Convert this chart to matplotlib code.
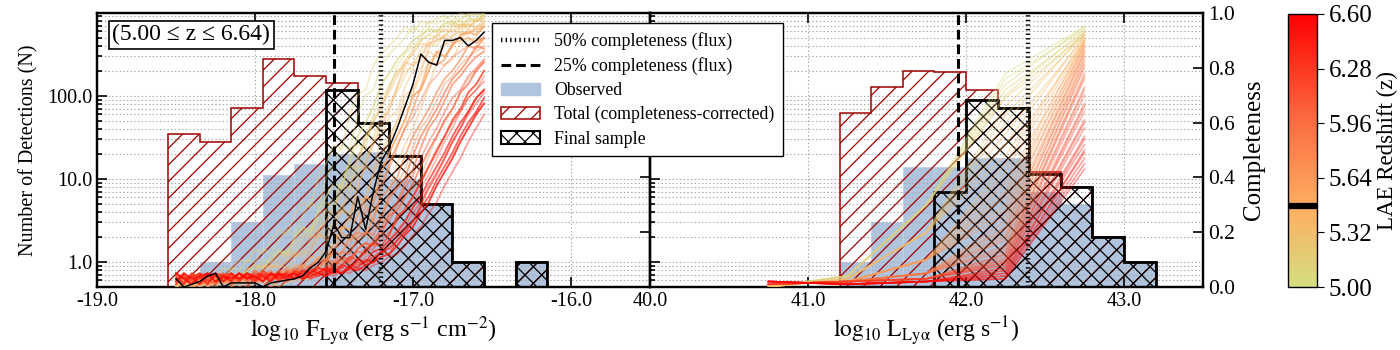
import numpy as np
import matplotlib
matplotlib.use("Agg")
import matplotlib.pyplot as plt
from matplotlib.colors import LinearSegmentedColormap, Normalize
from matplotlib.cm import ScalarMappable
from matplotlib.lines import Line2D
from matplotlib.patches import Patch
import matplotlib.ticker as mticker

plt.rcParams['font.family'] = ['Liberation Serif', 'DejaVu Serif']
plt.rcParams['mathtext.fontset'] = 'stix'
plt.rcParams['hatch.linewidth'] = 0.9
plt.rcParams['lines.scale_dashes'] = False

# ---------------- data ----------------
# flux histograms (log10 F bins)
flux_edges = [-18.55, -18.35, -18.15, -17.95, -17.75, -17.55, -17.35,
              -17.15, -16.95, -16.75, -16.55, -16.35, -16.15]
flux_observed = [0, 1, 3, 11, 15, 20, 21, 10, 5, 1, 0, 1]
flux_total = [35, 28, 72, 279, 174, 144, 47, 19, 5, 1, 0, 1]
flux_final = [0, 0, 0, 0, 0, 118, 47, 19, 5, 1, 0, 1]

# luminosity histograms (log10 L bins)
lum_edges = [41.2, 41.4, 41.6, 41.8, 42.0, 42.2, 42.4, 42.6, 42.8, 43.0, 43.2]
lum_observed = [1, 3, 14, 14, 18, 18, 7, 5, 2, 1]
lum_total = [62, 128, 200, 195, 118, 72, 12, 8, 2, 1]
lum_final = [0, 0, 0, 7, 89, 72, 11.5, 8, 2, 1]

# completeness limits
flux_c25, flux_c50 = -17.50, -17.20
lum_c25, lum_c50 = 41.95, 42.39

# completeness curve of highlighted LAE (black), on flux grid -18.50 .. -16.55
black_z = 5.475
black_completeness = [0.03, 0.00, 0.01, 0.02, 0.04, 0.05, 0.00, 0.015, 0.015, 0.015,
                      0.015, 0.00, 0.015, 0.02, 0.025, 0.03, 0.04, 0.07, 0.09, 0.13,
                      0.23, 0.18, 0.18, 0.33, 0.21, 0.35, 0.46, 0.51, 0.58, 0.66,
                      0.74, 0.85, 0.82, 0.81, 0.90, 0.90, 0.91, 0.88, 0.90, 0.93]

# template completeness shapes (flux grid -18.65 .. -16.40): two variants per redshift class
flux_templates_a = [
    [0.00, 0.01, 0.00, 0.02, 0.00, 0.01, 0.03, 0.01, 0.02, 0.03, 0.05, 0.04, 0.06,
     0.08, 0.07, 0.11, 0.13, 0.12, 0.18, 0.22, 0.20, 0.28, 0.33,
     0.38, 0.36, 0.47, 0.55, 0.60, 0.66, 0.74, 0.78, 0.83, 0.86,
     0.90, 0.92, 0.94, 0.93, 0.96, 0.97, 0.95, 0.98, 0.97, 0.99, 0.98, 0.99, 1.00],
    [0.00, 0.00, 0.01, 0.00, 0.02, 0.01, 0.00, 0.02, 0.01, 0.02, 0.03, 0.02, 0.04,
     0.05, 0.04, 0.06, 0.08, 0.07, 0.10, 0.13, 0.12, 0.17, 0.21,
     0.24, 0.30, 0.33, 0.41, 0.47, 0.53, 0.60, 0.67, 0.71, 0.77,
     0.82, 0.85, 0.89, 0.88, 0.92, 0.94, 0.93, 0.96, 0.95, 0.97, 0.98, 0.97, 0.99],
    [0.01, 0.00, 0.02, 0.03, 0.00, 0.01, 0.02, 0.04, 0.05, 0.00, 0.02, 0.01, 0.02,
     0.02, 0.00, 0.02, 0.02, 0.03, 0.03, 0.04, 0.07, 0.09, 0.13,
     0.20, 0.17, 0.19, 0.30, 0.24, 0.36, 0.45, 0.52, 0.58, 0.65,
     0.73, 0.82, 0.81, 0.83, 0.89, 0.90, 0.91, 0.89, 0.91, 0.93, 0.94, 0.95, 0.96],
    [0.02, 0.03, 0.01, 0.04, 0.02, 0.03, 0.05, 0.02, 0.04, 0.01, 0.03, 0.04, 0.02,
     0.03, 0.05, 0.02, 0.04, 0.03, 0.05, 0.04, 0.06, 0.05, 0.08,
     0.10, 0.09, 0.14, 0.16, 0.15, 0.22, 0.27, 0.31, 0.38, 0.43,
     0.51, 0.58, 0.62, 0.68, 0.74, 0.77, 0.81, 0.84, 0.86, 0.88, 0.90, 0.91, 0.93],
    [0.03, 0.01, 0.04, 0.02, 0.05, 0.03, 0.01, 0.04, 0.03, 0.05, 0.02, 0.04, 0.03,
     0.05, 0.02, 0.04, 0.03, 0.06, 0.03, 0.05, 0.04, 0.06, 0.05,
     0.07, 0.09, 0.08, 0.11, 0.13, 0.12, 0.17, 0.21, 0.24, 0.30,
     0.36, 0.41, 0.47, 0.53, 0.58, 0.64, 0.69, 0.72, 0.77, 0.80, 0.83, 0.85, 0.88],
    [0.04, 0.02, 0.05, 0.03, 0.01, 0.04, 0.05, 0.02, 0.04, 0.03, 0.05, 0.03, 0.04,
     0.02, 0.05, 0.03, 0.04, 0.05, 0.03, 0.04, 0.05, 0.04, 0.06,
     0.05, 0.07, 0.06, 0.08, 0.09, 0.11, 0.12, 0.15, 0.19, 0.22,
     0.27, 0.31, 0.37, 0.42, 0.47, 0.53, 0.58, 0.63, 0.67, 0.71, 0.74, 0.78, 0.81],
]
flux_templates_b = [
    [0.01, 0.00, 0.02, 0.01, 0.03, 0.00, 0.02, 0.04, 0.03, 0.05, 0.03, 0.07, 0.06,
     0.10, 0.09, 0.14, 0.12, 0.17, 0.21, 0.19, 0.26, 0.31, 0.29,
     0.40, 0.45, 0.52, 0.50, 0.63, 0.70, 0.72, 0.81, 0.85, 0.88,
     0.91, 0.95, 0.93, 0.97, 0.96, 0.98, 0.99, 0.97, 1.00, 0.99, 1.00, 0.99, 1.00],
    [0.00, 0.02, 0.00, 0.01, 0.03, 0.02, 0.01, 0.03, 0.02, 0.04, 0.02, 0.05, 0.04,
     0.06, 0.08, 0.07, 0.09, 0.12, 0.11, 0.15, 0.19, 0.18, 0.24,
     0.28, 0.27, 0.37, 0.44, 0.43, 0.55, 0.62, 0.64, 0.73, 0.79,
     0.80, 0.87, 0.90, 0.92, 0.91, 0.95, 0.96, 0.94, 0.97, 0.98, 0.99, 0.98, 1.00],
    [0.02, 0.01, 0.00, 0.02, 0.04, 0.01, 0.03, 0.00, 0.02, 0.03, 0.01, 0.03, 0.02,
     0.04, 0.03, 0.05, 0.04, 0.06, 0.05, 0.08, 0.07, 0.11, 0.10,
     0.16, 0.22, 0.21, 0.26, 0.33, 0.31, 0.42, 0.49, 0.55, 0.61,
     0.70, 0.72, 0.79, 0.86, 0.84, 0.88, 0.92, 0.93, 0.92, 0.95, 0.96, 0.97, 0.97],
    [0.03, 0.01, 0.04, 0.03, 0.02, 0.05, 0.01, 0.03, 0.05, 0.02, 0.04, 0.02, 0.05,
     0.03, 0.04, 0.06, 0.03, 0.05, 0.07, 0.05, 0.08, 0.07, 0.10,
     0.09, 0.13, 0.12, 0.18, 0.20, 0.19, 0.25, 0.33, 0.36, 0.40,
     0.48, 0.55, 0.60, 0.65, 0.71, 0.76, 0.79, 0.83, 0.88, 0.87, 0.91, 0.92, 0.94],
    [0.02, 0.05, 0.02, 0.04, 0.01, 0.05, 0.03, 0.05, 0.02, 0.04, 0.05, 0.02, 0.05,
     0.03, 0.06, 0.04, 0.05, 0.02, 0.06, 0.04, 0.07, 0.05, 0.07,
     0.06, 0.08, 0.11, 0.10, 0.14, 0.16, 0.15, 0.19, 0.26, 0.28,
     0.33, 0.38, 0.44, 0.50, 0.55, 0.61, 0.65, 0.71, 0.74, 0.79, 0.82, 0.84, 0.87],
    [0.05, 0.03, 0.04, 0.02, 0.05, 0.03, 0.04, 0.01, 0.05, 0.04, 0.02, 0.05, 0.03,
     0.05, 0.04, 0.02, 0.05, 0.04, 0.05, 0.03, 0.06, 0.05, 0.07,
     0.06, 0.05, 0.08, 0.07, 0.10, 0.09, 0.13, 0.14, 0.17, 0.20,
     0.24, 0.29, 0.33, 0.39, 0.44, 0.49, 0.55, 0.60, 0.64, 0.69, 0.72, 0.75, 0.79],
]
class_z_bounds = [5.2, 5.4, 5.7, 6.0, 6.3]

# redshifts of the individual LAEs, template variant and grid shift (in 0.05 dex steps)
lae_z = [5.00, 5.03, 5.07, 5.10, 5.14, 5.17, 5.21, 5.24, 5.28, 5.31, 5.35, 5.38,
         5.42, 5.45, 5.49, 5.52, 5.56, 5.59, 5.63, 5.66, 5.70, 5.73, 5.77, 5.80,
         5.84, 5.87, 5.91, 5.94, 5.98, 6.01, 6.05, 6.08, 6.12, 6.15, 6.19, 6.22,
         6.26, 6.29, 6.33, 6.36, 6.40, 6.43, 6.47, 6.50, 6.54, 6.57, 6.59, 6.60]
lae_variant = [0, 1, 1, 0, 1, 0, 0, 1, 0, 1, 1, 0, 1, 0, 1, 1, 0, 0, 1, 0, 1, 1, 0, 1,
               0, 1, 0, 0, 1, 1, 0, 1, 0, 1, 1, 0, 0, 1, 0, 1, 1, 0, 1, 0, 0, 1, 1, 0]
lae_shift = [0, -1, 1, 0, -2, 1, 0, -1, 2, 0, 1, -1, 0, 2, -1, 0, 1, -2, 0, 1,
             -1, 2, 0, -1, 1, 0, -2, 1, 0, -1, 2, 0, 1, -1, 0, 2, -1, 0, 1, -2,
             0, 1, -1, 0, 2, -1, 0, 1]

# luminosity completeness: grid points, class values for the faint points, per-LAE bright points
lum_grid = [40.75, 41.25, 41.75, 42.25, 42.75]
lum_faint_by_class = [[0.00, 0.04, 0.30], [0.00, 0.03, 0.20], [0.01, 0.02, 0.10],
                      [0.01, 0.02, 0.05], [0.01, 0.02, 0.03], [0.02, 0.01, 0.02]]
lae_c_4225 = [0.78, 0.76, 0.74, 0.72, 0.70, 0.69, 0.66, 0.63, 0.60, 0.56, 0.52, 0.48,
              0.45, 0.42, 0.38, 0.35, 0.33, 0.30, 0.28, 0.26, 0.24, 0.22, 0.21, 0.19,
              0.18, 0.17, 0.15, 0.14, 0.13, 0.12, 0.12, 0.11, 0.10, 0.10, 0.09, 0.09,
              0.08, 0.08, 0.07, 0.07, 0.06, 0.06, 0.05, 0.05, 0.04, 0.04, 0.03, 0.03]
lae_c_4275 = [0.95, 0.94, 0.95, 0.93, 0.94, 0.92, 0.93, 0.92, 0.93, 0.91, 0.92, 0.90,
              0.91, 0.90, 0.89, 0.90, 0.88, 0.89, 0.87, 0.88, 0.86, 0.85, 0.86, 0.84,
              0.82, 0.83, 0.80, 0.81, 0.78, 0.76, 0.77, 0.73, 0.70, 0.72, 0.67, 0.64,
              0.66, 0.61, 0.58, 0.60, 0.55, 0.52, 0.54, 0.49, 0.47, 0.50, 0.45, 0.43]

cbar_ticks = [5.00, 5.32, 5.64, 5.96, 6.28, 6.60]
z_label = '(5.00 ≤ z ≤ 6.64)'

# ---------------- style ----------------
c_obs = '#b0c4de'
c_tot = '#a00000'
cmap = LinearSegmentedColormap.from_list(
    'zmap', [(0.0, '#d5de80'), (0.28, '#fdb062'), (0.62, '#fb6a40'), (1.0, '#ff0000')])
norm = Normalize(5.0, 6.6)

W, H = 1400, 350
fig = plt.figure(figsize=(14, 3.5), dpi=100)
axL = fig.add_axes([97 / W, 63 / H, 553 / W, 274 / H])
axR = fig.add_axes([650 / W, 63 / H, 553 / W, 274 / H], sharey=axL)
cax = fig.add_axes([1288 / W, 63 / H, 29 / W, 273 / H])

flux_grid_long = np.round(-18.65 + 0.05 * np.arange(len(flux_templates_a[0])), 2)
flux_grid = np.round(-18.50 + 0.05 * np.arange(len(black_completeness)), 2)
classes = np.digitize(lae_z, class_z_bounds)


def draw_hists(ax, edges, obs, tot, fin):
    edges = np.asarray(edges)
    ax.bar(edges[:-1], obs, width=np.diff(edges), align='edge', color=c_obs,
           edgecolor='#c3d1e6', lw=0.8, zorder=1)
    ax.stairs(np.clip(tot, 1e-2, None), edges, baseline=1e-2, fill=True,
              facecolor='none', edgecolor=c_tot, hatch='//', lw=1.1, zorder=2)
    ax.stairs(np.clip(fin, 1e-2, None), edges, baseline=1e-2, fill=True,
              facecolor='none', edgecolor='k', hatch='xx', lw=2.0, zorder=3)


draw_hists(axL, flux_edges, flux_observed, flux_total, flux_final)
draw_hists(axR, lum_edges, lum_observed, lum_total, lum_final)

for ax in (axL, axR):
    ax.set_yscale('log')
    ax.set_ylim(0.5, 990)
    ax.grid(True, which='both', axis='y', ls=':', color='#a8a8a8', lw=0.8)
    ax.grid(True, which='major', axis='x', ls=':', color='#a8a8a8', lw=0.8)
    ax.tick_params(which='both', direction='in', top=True, right=False,
                   labelsize=14.5, width=1.2)
    ax.tick_params(which='major', length=7)
    ax.tick_params(which='minor', length=3.5)
    ax.xaxis.set_major_formatter(mticker.FormatStrFormatter('%.1f'))
    for s in ax.spines.values():
        s.set_linewidth(1.6)

axL.set_xlim(-19.0, -15.5)
axL.set_xticks([-19, -18, -17, -16])
axR.set_xlim(40.0, 43.5)
axR.set_xticks([40, 41, 42, 43])
axR.tick_params(labelleft=False)
axL.yaxis.set_major_locator(mticker.LogLocator(base=10))
axL.yaxis.set_minor_locator(mticker.LogLocator(base=10, subs=np.arange(2, 10)))
axL.yaxis.set_major_formatter(mticker.FormatStrFormatter('%.1f'))
axL.yaxis.set_minor_formatter(mticker.NullFormatter())

axL.set_ylabel('Number of Detections (N)', fontsize=14.5, labelpad=6)
axL.set_xlabel(r'$\log_{10}\,\mathrm{F_{Ly\alpha}}$ (erg s$^{-1}$ cm$^{-2}$)', fontsize=17.5, labelpad=3)
axR.set_xlabel(r'$\log_{10}\,\mathrm{L_{Ly\alpha}}$ (erg s$^{-1}$)', fontsize=17, labelpad=3)
axL.text(0.028, 0.921, z_label, transform=axL.transAxes, fontsize=17, ha='left', va='center',
         bbox=dict(boxstyle='square,pad=0.15', fc='white', ec='black', lw=1.2), zorder=20)

# twin axes with completeness
tL = axL.twinx()
tR = axR.twinx()
for t in (tL, tR):
    t.set_ylim(0, 1)
    t.set_yticks(np.round(np.arange(0, 1.01, 0.2), 1))
    t.tick_params(direction='in', length=7, width=1.2, labelsize=15.5)
    t.yaxis.set_major_formatter(mticker.FormatStrFormatter('%.1f'))
tL.tick_params(labelright=False)
tR.set_ylabel('Completeness', fontsize=18, labelpad=6)

for i, z in enumerate(lae_z):
    col = cmap(norm(z))
    tset = flux_templates_a if lae_variant[i] == 0 else flux_templates_b
    tmpl = np.asarray(tset[classes[i]])
    x = flux_grid_long + 0.05 * lae_shift[i]
    m = (x >= -18.5 - 1e-6) & (x <= -16.55 + 1e-6)
    tL.plot(x[m], tmpl[m], color=col, alpha=0.4, lw=1.25, zorder=4)
    yv = list(lum_faint_by_class[classes[i]]) + [lae_c_4225[i], lae_c_4275[i]]
    tR.plot(lum_grid, yv, color=col, alpha=0.38, lw=1.2, zorder=4)

tL.plot(flux_grid, black_completeness, color='k', lw=1.1, zorder=6)

dot_ls = (0, (1.0, 2.3))
dash_ls = (0, (7, 3.5))
tL.axvline(flux_c50, color='k', ls=dot_ls, lw=3.2, zorder=8)
tL.axvline(flux_c25, color='k', ls=dash_ls, lw=2.2, zorder=8)
tR.axvline(lum_c50, color='k', ls=dot_ls, lw=3.2, zorder=8)
tR.axvline(lum_c25, color='k', ls=dash_ls, lw=2.2, zorder=8)
for t in (tL, tR):
    for s in t.spines.values():
        s.set_linewidth(1.6)

# legend
handles = [Line2D([], [], color='k', ls=dot_ls, lw=3.2),
           Line2D([], [], color='k', ls=dash_ls, lw=2.2),
           Patch(facecolor=c_obs, edgecolor=c_obs),
           Patch(facecolor='none', edgecolor=c_tot, hatch='//', lw=1.1),
           Patch(facecolor='none', edgecolor='k', hatch='xx', lw=1.5)]
labels = ['50% completeness (flux)', '25% completeness (flux)', 'Observed',
          'Total (completeness-corrected)', 'Final sample']
leg = fig.legend(handles, labels, loc='upper left', bbox_to_anchor=(492 / W, 1 - 23 / H),
                 bbox_transform=fig.transFigure, borderaxespad=0, fancybox=False,
                 edgecolor='k', framealpha=1, fontsize=12.8, labelspacing=0.4,
                 handlelength=2.2, borderpad=0.5)
leg.get_frame().set_linewidth(1.0)

# colorbar
cb = fig.colorbar(ScalarMappable(norm=norm, cmap=cmap), cax=cax, ticks=cbar_ticks)
cb.ax.yaxis.set_major_formatter(mticker.FormatStrFormatter('%.2f'))
cb.ax.tick_params(labelsize=18, length=5)
cb.outline.set_linewidth(1.0)
cb.set_label('LAE Redshift (z)', fontsize=16.5, labelpad=3)
cax.axhline(black_z, color='k', lw=4.5)

fig.savefig('out.png', dpi=100)
